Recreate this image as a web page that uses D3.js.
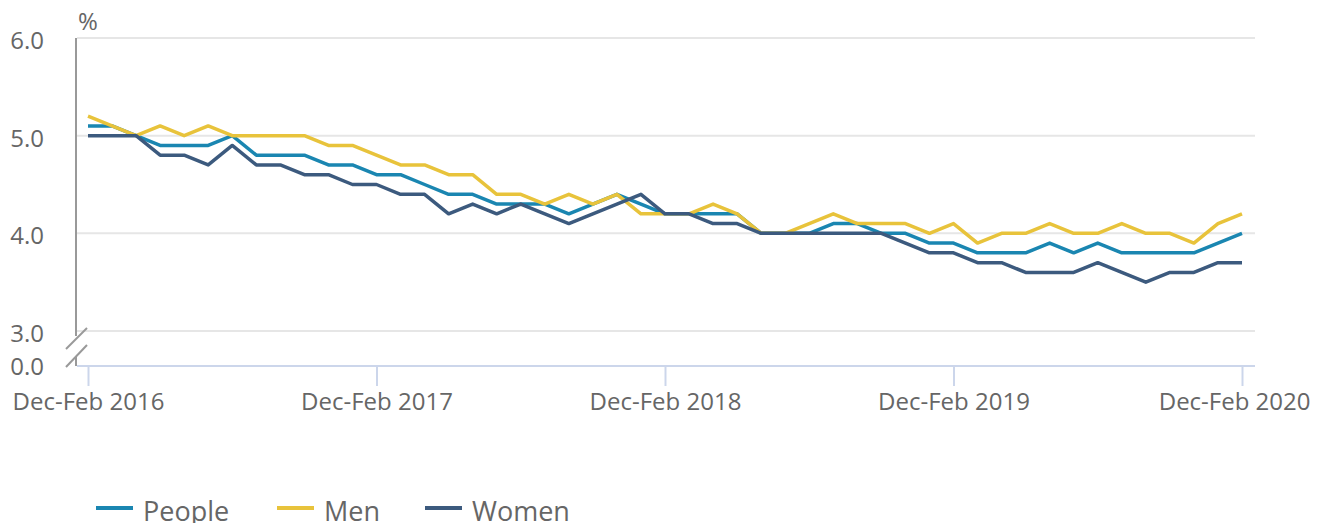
<!DOCTYPE html>
<html lang="en">

<head>
    <meta charset="utf-8" />
    <title>Unemployment rate by sex</title>
    <script src="https://d3js.org/d3.v7.min.js"></script>
    <style>
        body {
            margin: 0;
            background: #fff;
        }

        svg text {
            font-family: 'Open Sans', sans-serif;
        }

        .tick-label {
            font-size: 24px;
            fill: #666;
        }

        .legend text {
            font-size: 27px;
            fill: #666;
        }

        .series {
            fill: none;
            stroke-width: 3.5;
            stroke-linejoin: round;
        }
    </style>
</head>

<body>
    <div id="chart"></div>
    <script>
        // rolling three-month periods
        var periods = [
            'Dec-Feb 2016', 'Jan-Mar 2016', 'Feb-Apr 2016', 'Mar-May 2016', 'Apr-Jun 2016', 'May-Jul 2016',
            'Jun-Aug 2016', 'Jul-Sep 2016', 'Aug-Oct 2016', 'Sep-Nov 2016', 'Oct-Dec 2016', 'Nov-Jan 2017',
            'Dec-Feb 2017', 'Jan-Mar 2017', 'Feb-Apr 2017', 'Mar-May 2017', 'Apr-Jun 2017', 'May-Jul 2017',
            'Jun-Aug 2017', 'Jul-Sep 2017', 'Aug-Oct 2017', 'Sep-Nov 2017', 'Oct-Dec 2017', 'Nov-Jan 2018',
            'Dec-Feb 2018', 'Jan-Mar 2018', 'Feb-Apr 2018', 'Mar-May 2018', 'Apr-Jun 2018', 'May-Jul 2018',
            'Jun-Aug 2018', 'Jul-Sep 2018', 'Aug-Oct 2018', 'Sep-Nov 2018', 'Oct-Dec 2018', 'Nov-Jan 2019',
            'Dec-Feb 2019', 'Jan-Mar 2019', 'Feb-Apr 2019', 'Mar-May 2019', 'Apr-Jun 2019', 'May-Jul 2019',
            'Jun-Aug 2019', 'Jul-Sep 2019', 'Aug-Oct 2019', 'Sep-Nov 2019', 'Oct-Dec 2019', 'Nov-Jan 2020',
            'Dec-Feb 2020'
        ];

        var people = [5.1, 5.1, 5.0, 4.9, 4.9, 4.9, 5.0, 4.8, 4.8, 4.8,
            4.7, 4.7, 4.6, 4.6, 4.5, 4.4, 4.4, 4.3, 4.3, 4.3,
            4.2, 4.3, 4.4, 4.3, 4.2, 4.2, 4.2, 4.2, 4.0, 4.0,
            4.0, 4.1, 4.1, 4.0, 4.0, 3.9, 3.9, 3.8, 3.8, 3.8,
            3.9, 3.8, 3.9, 3.8, 3.8, 3.8, 3.8, 3.9, 4.0];

        var men = [5.2, 5.1, 5.0, 5.1, 5.0, 5.1, 5.0, 5.0, 5.0, 5.0,
            4.9, 4.9, 4.8, 4.7, 4.7, 4.6, 4.6, 4.4, 4.4, 4.3,
            4.4, 4.3, 4.4, 4.2, 4.2, 4.2, 4.3, 4.2, 4.0, 4.0,
            4.1, 4.2, 4.1, 4.1, 4.1, 4.0, 4.1, 3.9, 4.0, 4.0,
            4.1, 4.0, 4.0, 4.1, 4.0, 4.0, 3.9, 4.1, 4.2];

        var women = [5.0, 5.0, 5.0, 4.8, 4.8, 4.7, 4.9, 4.7, 4.7, 4.6,
            4.6, 4.5, 4.5, 4.4, 4.4, 4.2, 4.3, 4.2, 4.3, 4.2,
            4.1, 4.2, 4.3, 4.4, 4.2, 4.2, 4.1, 4.1, 4.0, 4.0,
            4.0, 4.0, 4.0, 4.0, 3.9, 3.8, 3.8, 3.7, 3.7, 3.6,
            3.6, 3.6, 3.7, 3.6, 3.5, 3.6, 3.6, 3.7, 3.7];

        var seriesNames = ['People', 'Men', 'Women'];
        var seriesColors = ['#1a86b1', '#e8c33b', '#3c5a7e'];

        var xTicks = ['Dec-Feb 2016', 'Dec-Feb 2017', 'Dec-Feb 2018', 'Dec-Feb 2019', 'Dec-Feb 2020'];
        var yTicks = [0, 3, 4, 5, 6];

        (function(d3) {
            'use strict';

            var width = 1325;
            var height = 523;
            var plotLeft = 77;
            var plotRight = 1255;
            var axisY = 366;

            var svg = d3.select('#chart')
                .append('svg')
                .attr('width', width)
                .attr('height', height)
                .attr('font-family', "'Open Sans', sans-serif");

            var x = d3.scalePoint()
                .domain(periods)
                .range([88, 1242]);

            // broken axis: 0 to 3 squeezed into the gap under the break
            var y = d3.scaleLinear()
                .domain([0, 3, 6])
                .range([axisY, 331, 38]);

            // gridlines
            svg.append('g')
                .selectAll('line')
                .data(yTicks.filter(function(d) { return d > 0; }))
                .enter()
                .append('line')
                .attr('x1', plotLeft)
                .attr('x2', plotRight)
                .attr('y1', function(d) { return y(d); })
                .attr('y2', function(d) { return y(d); })
                .attr('stroke', '#e6e6e6')
                .attr('stroke-width', 2);

            // y labels
            svg.append('g')
                .selectAll('text')
                .data(yTicks)
                .enter()
                .append('text')
                .attr('class', 'tick-label')
                .attr('x', 44)
                .attr('y', function(d) { return y(d) + (d === 0 ? 9 : 11); })
                .attr('text-anchor', 'end')
                .text(function(d) { return d3.format('.1f')(d); });

            svg.append('text')
                .attr('class', 'tick-label')
                .attr('x', 78)
                .attr('y', 30)
                .text('%');

            // y axis line with break
            svg.append('line')
                .attr('x1', 76).attr('x2', 76)
                .attr('y1', y(6)).attr('y2', 336)
                .attr('stroke', '#999').attr('stroke-width', 2);
            svg.append('line')
                .attr('x1', 76).attr('x2', 76)
                .attr('y1', 357).attr('y2', axisY)
                .attr('stroke', '#999').attr('stroke-width', 2);
            [[66, 349, 87, 328], [66, 367, 87, 345]].forEach(function(s) {
                svg.append('line')
                    .attr('x1', s[0]).attr('y1', s[1])
                    .attr('x2', s[2]).attr('y2', s[3])
                    .attr('stroke', '#999').attr('stroke-width', 2);
            });

            // x axis
            var xAxis = d3.axisBottom(x)
                .tickValues(xTicks)
                .tickSize(20)
                .tickPadding(5);

            var gx = svg.append('g')
                .attr('transform', 'translate(0,' + axisY + ')')
                .call(xAxis)
                .attr('font-family', null)
                .attr('font-size', null);

            gx.select('.domain').remove();
            gx.insert('line', ':first-child')
                .attr('x1', plotLeft)
                .attr('x2', plotRight)
                .attr('stroke', '#ccd6eb')
                .attr('stroke-width', 2);
            gx.selectAll('.tick line')
                .attr('stroke', '#ccd6eb')
                .attr('stroke-width', 2);
            gx.selectAll('.tick text')
                .attr('class', 'tick-label')
                .attr('fill', null)
                .attr('dy', '0.8em');

            // keep the last label inside the chart
            gx.selectAll('.tick').each(function(d) {
                var t = d3.select(this).select('text');
                var w = t.node().getComputedTextLength();
                var right = x(d) + w / 2;
                if (right > width - 15) {
                    t.attr('x', (width - 15) - right);
                }
            });

            // lines
            var line = d3.line()
                .x(function(d, i) { return x(periods[i]); })
                .y(function(d) { return y(d); });

            var dataSets = [people, men, women];

            svg.append('g')
                .selectAll('path')
                .data(dataSets)
                .enter()
                .append('path')
                .attr('class', 'series')
                .attr('stroke', function(d, i) { return seriesColors[i]; })
                .attr('d', line);

            // legend
            var legendX = [96, 277, 425];
            var legend = svg.selectAll('.legend')
                .data(seriesNames)
                .enter()
                .append('g')
                .attr('class', 'legend')
                .attr('transform', function(d, i) {
                    return 'translate(' + legendX[i] + ',508)';
                });

            legend.append('line')
                .attr('x1', 0)
                .attr('x2', 37)
                .attr('stroke', function(d, i) { return seriesColors[i]; })
                .attr('stroke-width', 4);

            legend.append('text')
                .attr('x', 47)
                .attr('y', 13)
                .text(function(d) { return d; });
        })(window.d3);
    </script>
</body>

</html>
